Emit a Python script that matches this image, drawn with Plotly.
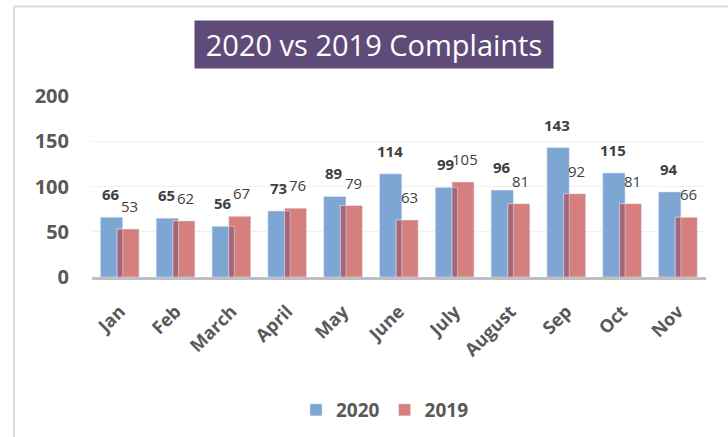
import plotly.graph_objects as go

months = ["Jan", "Feb", "March", "April", "May", "June", "July", "August", "Sep", "Oct", "Nov"]
values_2020 = [66, 65, 56, 73, 89, 114, 99, 96, 143, 115, 94]
values_2019 = [53, 62, 67, 76, 79, 63, 105, 81, 92, 81, 66]
y_ticks = [0, 50, 100, 150, 200]

BLUE = "#7ea6d4"
RED = "#d67f7f"
OVER = "#a4677a"
GRAY = "#595959"
LABEL = "#404040"
FONT = "Open Sans"

W, H = 728, 437
L, R, T, B = 92, 22, 96, 160
pw = W - L - R
ph = H - T - B

fig = go.Figure()
fig.add_trace(go.Bar(name="2020", x=months, y=values_2020, marker_color=BLUE,
                     offset=-0.35, width=0.40, hoverinfo="x+y"))
fig.add_trace(go.Bar(name="2019", x=months, y=values_2019, marker_color=RED,
                     offset=-0.05, width=0.394, hoverinfo="x+y"))
overlap = [min(a, b) for a, b in zip(values_2020, values_2019)]
fig.add_trace(go.Bar(x=months, y=overlap, marker_color=OVER, offset=-0.05, width=0.10,
                     showlegend=False, hoverinfo="skip"))

annotations = []
for m, a, b in zip(months, values_2020, values_2019):
    annotations.append(dict(x=m, y=a, xref="x", yref="y", text=f"<b>{a}</b>", showarrow=False,
                            xshift=-9, yshift=11, yanchor="bottom",
                            font=dict(family=FONT, size=15, color=LABEL)))
    annotations.append(dict(x=m, y=b, xref="x", yref="y", text=str(b), showarrow=False,
                            xshift=10, yshift=11, yanchor="bottom",
                            font=dict(family=FONT, size=15, color=LABEL)))

annotations.append(dict(x=(374 - L) / pw, y=(H - B - 44.5) / ph, xref="paper", yref="paper",
                        text="2020 vs 2019 Complaints", showarrow=False, xanchor="center",
                        yanchor="middle", width=356, height=45, bgcolor="#5f4b7a",
                        font=dict(family=FONT, size=29, color="white")))

fig.update_layout(
    width=W, height=H,
    margin=dict(l=L, r=R, t=T, b=B, autoexpand=False),
    barmode="overlay",
    plot_bgcolor="white", paper_bgcolor="white",
    font=dict(family=FONT, color=GRAY),
    annotations=annotations,
    showlegend=True,
    legend=dict(orientation="h", x=(385 - L) / pw, xanchor="center",
                y=(H - B - 410) / ph, yanchor="middle",
                font=dict(family=FONT, size=19, color=GRAY, weight="bold"),
                traceorder="normal", itemwidth=30),
    shapes=[dict(type="rect", xref="paper", yref="paper",
                 x0=(14 - L) / pw, x1=(740 - L) / pw,
                 y0=(H - B - 450) / ph, y1=(H - B - 6.5) / ph,
                 line=dict(color="#dcdcdc", width=2), layer="below")],
)
fig.update_xaxes(showline=True, linecolor="#bfbfbf", linewidth=3, tickangle=-45,
                 tickfont=dict(family=FONT, size=18, color=GRAY, weight="bold"),
                 ticklabelstandoff=14, showgrid=False, automargin=False)
fig.update_yaxes(range=[0, 200], tickvals=y_ticks, showgrid=True, gridcolor="#f0f0f0",
                 gridwidth=1, zeroline=False, ticklabelstandoff=22, automargin=False,
                 tickfont=dict(family=FONT, size=20, color=GRAY, weight="bold"))

fig.write_html("out.html", config={"displayModeBar": False},
               post_script="document.body.style.margin='0';document.body.style.overflow='hidden';")
